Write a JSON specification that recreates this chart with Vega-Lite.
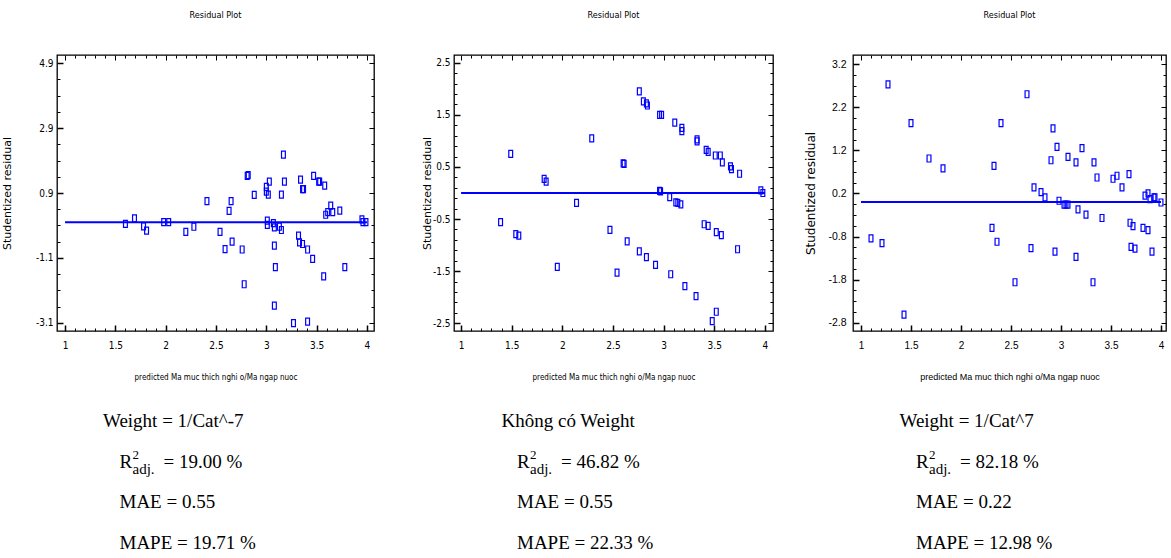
{
  "$schema": "https://vega.github.io/schema/vega-lite/v6.json",
  "padding": {"left": 0, "top": 9, "right": 0, "bottom": 0},
  "background": "white",
  "config": {
    "view": {"stroke": "black", "strokeWidth": 1.3},
    "axis": {"grid": false, "domain": false, "labelColor": "black", "titleColor": "black", "titleFontWeight": "normal", "tickColor": "black"}
  },
  "datasets": {
    "p1": [
      {"x":1.6,"y":-0.05},{"x":1.69,"y":0.12},{"x":1.78,"y":-0.13},{"x":1.81,"y":-0.26},{"x":1.98,"y":0.0},{"x":2.03,"y":0.0},{"x":2.2,"y":-0.3},{"x":2.28,"y":-0.14},{"x":2.41,"y":0.65},{"x":2.54,"y":-0.3},{"x":2.59,"y":-0.83},{"x":2.63,"y":0.35},{"x":2.65,"y":0.65},{"x":2.66,"y":-0.6},{"x":2.76,"y":-0.84},{"x":2.78,"y":-1.91},{"x":2.81,"y":1.43},{"x":2.82,"y":1.45},{"x":2.88,"y":0.84},{"x":3.0,"y":1.09},{"x":3.0,"y":0.94},{"x":3.01,"y":0.05},{"x":3.01,"y":-0.08},{"x":3.02,"y":0.85},{"x":3.03,"y":1.25},{"x":3.07,"y":-0.03},{"x":3.08,"y":-0.16},{"x":3.08,"y":-0.72},{"x":3.09,"y":-1.38},{"x":3.08,"y":-2.57},{"x":3.13,"y":-0.14},{"x":3.15,"y":-0.24},{"x":3.15,"y":0.85},{"x":3.17,"y":2.08},{"x":3.18,"y":1.25},{"x":3.27,"y":-3.11},{"x":3.32,"y":-0.41},{"x":3.33,"y":-0.62},{"x":3.34,"y":1.31},{"x":3.36,"y":-0.67},{"x":3.36,"y":1.02},{"x":3.37,"y":1.02},{"x":3.41,"y":-0.84},{"x":3.41,"y":-3.06},{"x":3.46,"y":-1.13},{"x":3.47,"y":1.43},{"x":3.52,"y":1.25},{"x":3.53,"y":1.25},{"x":3.57,"y":-1.67},{"x":3.58,"y":1.13},{"x":3.59,"y":0.23},{"x":3.61,"y":0.31},{"x":3.64,"y":0.51},{"x":3.66,"y":0.31},{"x":3.73,"y":0.36},{"x":3.78,"y":-1.38},{"x":3.95,"y":0.09},{"x":3.96,"y":0.0},{"x":3.99,"y":0.0}
    ],
    "p2": [
      {"x":1.39,"y":-0.56},{"x":1.49,"y":0.75},{"x":1.54,"y":-0.79},{"x":1.57,"y":-0.82},{"x":1.82,"y":0.27},{"x":1.84,"y":0.22},{"x":1.95,"y":-1.42},{"x":2.14,"y":-0.19},{"x":2.29,"y":1.05},{"x":2.47,"y":-0.71},{"x":2.54,"y":-1.53},{"x":2.6,"y":0.57},{"x":2.61,"y":0.56},{"x":2.64,"y":-0.93},{"x":2.76,"y":1.95},{"x":2.76,"y":-1.12},{"x":2.8,"y":1.76},{"x":2.83,"y":-1.23},{"x":2.83,"y":1.72},{"x":2.84,"y":1.68},{"x":2.92,"y":-1.38},{"x":2.96,"y":1.5},{"x":2.98,"y":1.5},{"x":2.96,"y":0.04},{"x":2.97,"y":0.03},{"x":3.06,"y":-0.08},{"x":3.07,"y":-1.56},{"x":3.11,"y":1.35},{"x":3.12,"y":-0.18},{"x":3.14,"y":-0.19},{"x":3.17,"y":-0.22},{"x":3.18,"y":1.25},{"x":3.18,"y":1.19},{"x":3.21,"y":-1.79},{"x":3.32,"y":-1.98},{"x":3.33,"y":0.99},{"x":3.33,"y":1.03},{"x":3.4,"y":-0.6},{"x":3.42,"y":0.83},{"x":3.44,"y":-0.63},{"x":3.44,"y":0.79},{"x":3.48,"y":-2.46},{"x":3.51,"y":0.72},{"x":3.52,"y":-0.75},{"x":3.52,"y":-2.28},{"x":3.56,"y":0.72},{"x":3.57,"y":-0.81},{"x":3.58,"y":0.59},{"x":3.66,"y":0.51},{"x":3.67,"y":0.46},{"x":3.73,"y":-1.08},{"x":3.75,"y":0.37},{"x":3.96,"y":0.05},{"x":3.98,"y":0.0}
    ],
    "p3": [
      {"x":1.1,"y":-0.84},{"x":1.21,"y":-0.95},{"x":1.27,"y":2.73},{"x":1.43,"y":-2.61},{"x":1.5,"y":1.83},{"x":1.68,"y":1.01},{"x":1.82,"y":0.78},{"x":2.31,"y":-0.6},{"x":2.33,"y":0.84},{"x":2.36,"y":-0.92},{"x":2.4,"y":1.83},{"x":2.54,"y":-1.86},{"x":2.66,"y":2.5},{"x":2.7,"y":-1.07},{"x":2.73,"y":0.34},{"x":2.8,"y":0.23},{"x":2.84,"y":0.11},{"x":2.9,"y":0.97},{"x":2.92,"y":1.71},{"x":2.94,"y":-1.15},{"x":2.96,"y":1.28},{"x":2.98,"y":0.03},{"x":3.03,"y":-0.06},{"x":3.05,"y":-0.06},{"x":3.07,"y":-0.06},{"x":3.07,"y":1.05},{"x":3.15,"y":-1.27},{"x":3.15,"y":0.92},{"x":3.17,"y":-0.17},{"x":3.21,"y":1.25},{"x":3.25,"y":-0.29},{"x":3.32,"y":-1.86},{"x":3.33,"y":0.92},{"x":3.36,"y":0.57},{"x":3.41,"y":-0.37},{"x":3.52,"y":0.54},{"x":3.56,"y":0.61},{"x":3.61,"y":0.34},{"x":3.68,"y":0.65},{"x":3.69,"y":-0.48},{"x":3.7,"y":-1.04},{"x":3.72,"y":-0.56},{"x":3.74,"y":-1.08},{"x":3.82,"y":-0.6},{"x":3.84,"y":0.15},{"x":3.87,"y":-0.65},{"x":3.87,"y":0.2},{"x":3.89,"y":0.07},{"x":3.91,"y":-1.15},{"x":3.93,"y":0.11},{"x":3.94,"y":0.11},{"x":4.0,"y":-0.01}
    ],
    "fit": [{"xa": 1, "xb": 4, "yv": 0}],
    "t1": [
      {"row":"1","part":"head","t":"Weight = 1/Cat^-7"},
      {"row":"2","part":"body","t":"R"},{"row":"2","part":"sup","t":"2"},{"row":"2","part":"sub","t":"adj."},{"row":"2","part":"rest","t":"= 19.00 %"},
      {"row":"3","part":"body","t":"MAE = 0.55"},
      {"row":"4","part":"body","t":"MAPE = 19.71 %"}
    ],
    "t2": [
      {"row":"1","part":"head","t":"Không có Weight"},
      {"row":"2","part":"body","t":"R"},{"row":"2","part":"sup","t":"2"},{"row":"2","part":"sub","t":"adj."},{"row":"2","part":"rest","t":"= 46.82 %"},
      {"row":"3","part":"body","t":"MAE = 0.55"},
      {"row":"4","part":"body","t":"MAPE = 22.33 %"}
    ],
    "t3": [
      {"row":"1","part":"head","t":"Weight = 1/Cat^7"},
      {"row":"2","part":"body","t":"R"},{"row":"2","part":"sup","t":"2"},{"row":"2","part":"sub","t":"adj."},{"row":"2","part":"rest","t":"= 82.18 %"},
      {"row":"3","part":"body","t":"MAE = 0.22"},
      {"row":"4","part":"body","t":"MAPE = 12.98 %"}
    ]
  },
  "columns": 3,
  "spacing": {"row": 78, "column": 80},
  "bounds": "flush",
  "concat": [
    {
      "width": 317, "height": 276,
      "title": {"text": "Residual Plot", "font": "Liberation Sans Narrow, Arial Narrow, DejaVu Sans Condensed, sans-serif", "fontSize": 9, "fontWeight": "normal", "frame": "group", "anchor": "middle", "baseline": "bottom", "offset": 26},
      "layer": [
        {
          "data": {"name": "p1"},
          "mark": {"type": "point", "shape": "M-0.55,-1H0.55V1H-0.55Z", "filled": false, "color": "#0000ff", "size": 49, "strokeWidth": 1.2, "opacity": 1},
          "encoding": {
            "x": {"field": "x", "type": "quantitative", "scale": {"domain": [0.92, 4.07], "nice": false, "zero": false},
                  "axis": {"values": [1,1.5,2,2.5,3,3.5,4], "labelExpr": "toString(datum.value)", "ticks": false, "labelPadding": 9, "labelFont": "Liberation Sans Narrow, Arial Narrow, DejaVu Sans Condensed, sans-serif", "labelFontSize": 10, "title": "predicted Ma muc thich nghi o/Ma ngap nuoc", "titleFont": "Liberation Sans Narrow, Arial Narrow, DejaVu Sans Condensed, sans-serif", "titleFontSize": 8, "titlePadding": 23}},
            "y": {"field": "y", "type": "quantitative", "scale": {"domain": [-3.35, 5.15], "nice": false, "zero": false},
                  "axis": {"values": [-3.1,-1.1,0.9,2.9,4.9], "labelExpr": "toString(datum.value)", "ticks": false, "labelPadding": 4, "labelFont": "Liberation Sans Narrow, Arial Narrow, DejaVu Sans Condensed, sans-serif", "labelFontSize": 10, "title": "Studentized residual", "titleFont": "DejaVu Sans", "titleFontSize": 11, "titlePadding": 23}}
          }
        },
        {
          "data": {"name": "fit"},
          "mark": {"type": "rule", "color": "#0000ff", "strokeWidth": 2},
          "encoding": {
            "x": {"field": "xa", "type": "quantitative", "scale": {"domain": [0.92, 4.07], "nice": false, "zero": false},
                  "axis": {"orient": "top", "offset": -276, "values": [1,1.1,1.2,1.3,1.4,1.5,1.6,1.7,1.8,1.9,2,2.1,2.2,2.3,2.4,2.5,2.6,2.7,2.8,2.9,3,3.1,3.2,3.3,3.4,3.5,3.6,3.7,3.8,3.9,4], "labels": false, "title": null,
                           "tickSize": {"condition": {"test": "indexof([1,1.5,2,2.5,3,3.5,4], datum.value) >= 0", "value": 6}, "value": 3},
                           "tickWidth": {"condition": {"test": "indexof([1,1.5,2,2.5,3,3.5,4], datum.value) >= 0", "value": 1.5}, "value": 1}}},
            "x2": {"field": "xb"},
            "y": {"field": "yv", "type": "quantitative", "scale": {"domain": [-3.35, 5.15], "nice": false, "zero": false},
                  "axis": {"orient": "right", "offset": -317, "values": [-3.1,-2.6,-2.1,-1.6,-1.1,-0.6,-0.1,0.4,0.9,1.4,1.9,2.4,2.9,3.4,3.9,4.4,4.9], "labels": false, "title": null,
                           "tickSize": {"condition": {"test": "indexof([-3.1,-1.1,0.9,2.9,4.9], datum.value) >= 0", "value": 6}, "value": 3},
                           "tickWidth": {"condition": {"test": "indexof([-3.1,-1.1,0.9,2.9,4.9], datum.value) >= 0", "value": 1.5}, "value": 1}}}
          }
        },
        {
          "data": {"name": "fit"},
          "mark": {"type": "rule", "color": "#0000ff", "strokeWidth": 2, "strokeOpacity": 0},
          "encoding": {
            "x": {"field": "xa", "type": "quantitative", "scale": {"domain": [0.92, 4.07], "nice": false, "zero": false},
                  "axis": {"orient": "bottom", "offset": -276, "values": [1,1.1,1.2,1.3,1.4,1.5,1.6,1.7,1.8,1.9,2,2.1,2.2,2.3,2.4,2.5,2.6,2.7,2.8,2.9,3,3.1,3.2,3.3,3.4,3.5,3.6,3.7,3.8,3.9,4], "labels": false, "title": null,
                           "tickSize": {"condition": {"test": "indexof([1,1.5,2,2.5,3,3.5,4], datum.value) >= 0", "value": 5}, "value": 3}}},
            "x2": {"field": "xb"},
            "y": {"field": "yv", "type": "quantitative", "scale": {"domain": [-3.35, 5.15], "nice": false, "zero": false},
                  "axis": {"orient": "left", "offset": -317, "values": [-3.1,-2.6,-2.1,-1.6,-1.1,-0.6,-0.1,0.4,0.9,1.4,1.9,2.4,2.9,3.4,3.9,4.4,4.9], "labels": false, "title": null,
                           "tickSize": {"condition": {"test": "indexof([-3.1,-1.1,0.9,2.9,4.9], datum.value) >= 0", "value": 5}, "value": 3}}}
          }
        }
      ],
      "resolve": {"axis": {"x": "independent", "y": "independent"}}
    },
    {
      "width": 319, "height": 276,
      "title": {"text": "Residual Plot", "font": "Liberation Sans Narrow, Arial Narrow, DejaVu Sans Condensed, sans-serif", "fontSize": 9, "fontWeight": "normal", "frame": "group", "anchor": "middle", "baseline": "bottom", "offset": 26},
      "layer": [
        {
          "data": {"name": "p2"},
          "mark": {"type": "point", "shape": "M-0.55,-1H0.55V1H-0.55Z", "filled": false, "color": "#0000ff", "size": 49, "strokeWidth": 1.2, "opacity": 1},
          "encoding": {
            "x": {"field": "x", "type": "quantitative", "scale": {"domain": [0.93, 4.08], "nice": false, "zero": false},
                  "axis": {"values": [1,1.5,2,2.5,3,3.5,4], "labelExpr": "toString(datum.value)", "ticks": false, "labelPadding": 9, "labelFont": "Liberation Sans Narrow, Arial Narrow, DejaVu Sans Condensed, sans-serif", "labelFontSize": 10, "title": "predicted Ma muc thich nghi o/Ma ngap nuoc", "titleFont": "Liberation Sans Narrow, Arial Narrow, DejaVu Sans Condensed, sans-serif", "titleFontSize": 8, "titlePadding": 23}},
            "y": {"field": "y", "type": "quantitative", "scale": {"domain": [-2.65, 2.65], "nice": false, "zero": false},
                  "axis": {"values": [-2.5,-1.5,-0.5,0.5,1.5,2.5], "labelExpr": "toString(datum.value)", "ticks": false, "labelPadding": 4, "labelFont": "Liberation Sans Narrow, Arial Narrow, DejaVu Sans Condensed, sans-serif", "labelFontSize": 10, "title": "Studentized residual", "titleFont": "DejaVu Sans", "titleFontSize": 11, "titlePadding": 0}}
          }
        },
        {
          "data": {"name": "fit"},
          "mark": {"type": "rule", "color": "#0000ff", "strokeWidth": 2},
          "encoding": {
            "x": {"field": "xa", "type": "quantitative", "scale": {"domain": [0.93, 4.08], "nice": false, "zero": false},
                  "axis": {"orient": "top", "offset": -276, "values": [1,1.1,1.2,1.3,1.4,1.5,1.6,1.7,1.8,1.9,2,2.1,2.2,2.3,2.4,2.5,2.6,2.7,2.8,2.9,3,3.1,3.2,3.3,3.4,3.5,3.6,3.7,3.8,3.9,4], "labels": false, "title": null,
                           "tickSize": {"condition": {"test": "indexof([1,1.5,2,2.5,3,3.5,4], datum.value) >= 0", "value": 6}, "value": 3},
                           "tickWidth": {"condition": {"test": "indexof([1,1.5,2,2.5,3,3.5,4], datum.value) >= 0", "value": 1.5}, "value": 1}}},
            "x2": {"field": "xb"},
            "y": {"field": "yv", "type": "quantitative", "scale": {"domain": [-2.65, 2.65], "nice": false, "zero": false},
                  "axis": {"orient": "right", "offset": -319, "values": [-2.5,-2.3,-2.1,-1.9,-1.7,-1.5,-1.3,-1.1,-0.9,-0.7,-0.5,-0.3,-0.1,0.1,0.3,0.5,0.7,0.9,1.1,1.3,1.5,1.7,1.9,2.1,2.3,2.5], "labels": false, "title": null,
                           "tickSize": {"condition": {"test": "indexof([-2.5,-1.5,-0.5,0.5,1.5,2.5], datum.value) >= 0", "value": 6}, "value": 3},
                           "tickWidth": {"condition": {"test": "indexof([-2.5,-1.5,-0.5,0.5,1.5,2.5], datum.value) >= 0", "value": 1.5}, "value": 1}}}
          }
        },
        {
          "data": {"name": "fit"},
          "mark": {"type": "rule", "color": "#0000ff", "strokeWidth": 2, "strokeOpacity": 0},
          "encoding": {
            "x": {"field": "xa", "type": "quantitative", "scale": {"domain": [0.93, 4.08], "nice": false, "zero": false},
                  "axis": {"orient": "bottom", "offset": -276, "values": [1,1.1,1.2,1.3,1.4,1.5,1.6,1.7,1.8,1.9,2,2.1,2.2,2.3,2.4,2.5,2.6,2.7,2.8,2.9,3,3.1,3.2,3.3,3.4,3.5,3.6,3.7,3.8,3.9,4], "labels": false, "title": null,
                           "tickSize": {"condition": {"test": "indexof([1,1.5,2,2.5,3,3.5,4], datum.value) >= 0", "value": 5}, "value": 3}}},
            "x2": {"field": "xb"},
            "y": {"field": "yv", "type": "quantitative", "scale": {"domain": [-2.65, 2.65], "nice": false, "zero": false},
                  "axis": {"orient": "left", "offset": -319, "values": [-2.5,-2.3,-2.1,-1.9,-1.7,-1.5,-1.3,-1.1,-0.9,-0.7,-0.5,-0.3,-0.1,0.1,0.3,0.5,0.7,0.9,1.1,1.3,1.5,1.7,1.9,2.1,2.3,2.5], "labels": false, "title": null,
                           "tickSize": {"condition": {"test": "indexof([-2.5,-1.5,-0.5,0.5,1.5,2.5], datum.value) >= 0", "value": 5}, "value": 3}}}
          }
        }
      ],
      "resolve": {"axis": {"x": "independent", "y": "independent"}}
    },
    {
      "width": 313, "height": 276,
      "title": {"text": "Residual Plot", "font": "Liberation Sans Narrow, Arial Narrow, DejaVu Sans Condensed, sans-serif", "fontSize": 9, "fontWeight": "normal", "frame": "group", "anchor": "middle", "baseline": "bottom", "offset": 26},
      "layer": [
        {
          "data": {"name": "p3"},
          "mark": {"type": "point", "shape": "M-0.55,-1H0.55V1H-0.55Z", "filled": false, "color": "#0000ff", "size": 49, "strokeWidth": 1.2, "opacity": 1},
          "encoding": {
            "x": {"field": "x", "type": "quantitative", "scale": {"domain": [0.92, 4.05], "nice": false, "zero": false},
                  "axis": {"values": [1,1.5,2,2.5,3,3.5,4], "labelExpr": "toString(datum.value)", "ticks": false, "labelPadding": 9, "labelFont": "Liberation Sans", "labelFontSize": 10, "title": "predicted Ma muc thich nghi o/Ma ngap nuoc", "titleFont": "Liberation Sans", "titleFontSize": 9, "titlePadding": 22}},
            "y": {"field": "y", "type": "quantitative", "scale": {"domain": [-2.99, 3.41], "nice": false, "zero": false},
                  "axis": {"values": [-2.8,-1.8,-0.8,0.2,1.2,2.2,3.2], "labelExpr": "toString(datum.value)", "ticks": false, "labelPadding": 7, "labelFont": "Liberation Sans", "labelFontSize": 10.5, "title": "Studentized residual", "titleFont": "DejaVu Sans", "titleFontSize": 12, "titlePadding": 10}}
          }
        },
        {
          "data": {"name": "fit"},
          "mark": {"type": "rule", "color": "#0000ff", "strokeWidth": 2},
          "encoding": {
            "x": {"field": "xa", "type": "quantitative", "scale": {"domain": [0.92, 4.05], "nice": false, "zero": false},
                  "axis": {"orient": "top", "offset": -276, "values": [1,1.1,1.2,1.3,1.4,1.5,1.6,1.7,1.8,1.9,2,2.1,2.2,2.3,2.4,2.5,2.6,2.7,2.8,2.9,3,3.1,3.2,3.3,3.4,3.5,3.6,3.7,3.8,3.9,4], "labels": false, "title": null,
                           "tickSize": {"condition": {"test": "indexof([1,1.5,2,2.5,3,3.5,4], datum.value) >= 0", "value": 6}, "value": 3},
                           "tickWidth": {"condition": {"test": "indexof([1,1.5,2,2.5,3,3.5,4], datum.value) >= 0", "value": 1.5}, "value": 1}}},
            "x2": {"field": "xb"},
            "y": {"field": "yv", "type": "quantitative", "scale": {"domain": [-2.99, 3.41], "nice": false, "zero": false},
                  "axis": {"orient": "right", "offset": -313, "values": [-2.8,-2.55,-2.3,-2.05,-1.8,-1.55,-1.3,-1.05,-0.8,-0.55,-0.3,-0.05,0.2,0.45,0.7,0.95,1.2,1.45,1.7,1.95,2.2,2.45,2.7,2.95,3.2], "labels": false, "title": null,
                           "tickSize": {"condition": {"test": "indexof([-2.8,-1.8,-0.8,0.2,1.2,2.2,3.2], datum.value) >= 0", "value": 6}, "value": 3},
                           "tickWidth": {"condition": {"test": "indexof([-2.8,-1.8,-0.8,0.2,1.2,2.2,3.2], datum.value) >= 0", "value": 1.5}, "value": 1}}}
          }
        },
        {
          "data": {"name": "fit"},
          "mark": {"type": "rule", "color": "#0000ff", "strokeWidth": 2, "strokeOpacity": 0},
          "encoding": {
            "x": {"field": "xa", "type": "quantitative", "scale": {"domain": [0.92, 4.05], "nice": false, "zero": false},
                  "axis": {"orient": "bottom", "offset": -276, "values": [1,1.1,1.2,1.3,1.4,1.5,1.6,1.7,1.8,1.9,2,2.1,2.2,2.3,2.4,2.5,2.6,2.7,2.8,2.9,3,3.1,3.2,3.3,3.4,3.5,3.6,3.7,3.8,3.9,4], "labels": false, "title": null,
                           "tickSize": {"condition": {"test": "indexof([1,1.5,2,2.5,3,3.5,4], datum.value) >= 0", "value": 5}, "value": 3}}},
            "x2": {"field": "xb"},
            "y": {"field": "yv", "type": "quantitative", "scale": {"domain": [-2.99, 3.41], "nice": false, "zero": false},
                  "axis": {"orient": "left", "offset": -313, "values": [-2.8,-2.55,-2.3,-2.05,-1.8,-1.55,-1.3,-1.05,-0.8,-0.55,-0.3,-0.05,0.2,0.45,0.7,0.95,1.2,1.45,1.7,1.95,2.2,2.45,2.7,2.95,3.2], "labels": false, "title": null,
                           "tickSize": {"condition": {"test": "indexof([-2.8,-1.8,-0.8,0.2,1.2,2.2,3.2], datum.value) >= 0", "value": 5}, "value": 3}}}
          }
        }
      ],
      "resolve": {"axis": {"x": "independent", "y": "independent"}}
    },
    {
      "width": 317, "height": 146, "view": {"stroke": null},
      "data": {"name": "t1"},
      "encoding": {"y": {"field": "row", "type": "ordinal", "axis": null, "scale": {"type": "point", "padding": 0.3, "domain": ["1","2","3","4"]}}, "text": {"field": "t"}},
      "layer": [
        {"transform": [{"filter": "datum.part === 'head'"}], "mark": {"type": "text", "font": "Liberation Serif", "fontSize": 19, "align": "left", "baseline": "middle", "dx": -112.5}},
        {"transform": [{"filter": "datum.part === 'body'"}], "mark": {"type": "text", "font": "Liberation Serif", "fontSize": 19, "align": "left", "baseline": "middle", "dx": -96}},
        {"transform": [{"filter": "datum.part === 'sup'"}], "mark": {"type": "text", "font": "Liberation Serif", "fontSize": 13, "align": "left", "baseline": "middle", "dx": -83, "dy": -7}},
        {"transform": [{"filter": "datum.part === 'sub'"}], "mark": {"type": "text", "font": "Liberation Serif", "fontSize": 15, "align": "left", "baseline": "middle", "dx": -83, "dy": 7}},
        {"transform": [{"filter": "datum.part === 'rest'"}], "mark": {"type": "text", "font": "Liberation Serif", "fontSize": 19, "align": "left", "baseline": "middle", "dx": -52}}
      ]
    },
    {
      "width": 319, "height": 146, "view": {"stroke": null},
      "data": {"name": "t2"},
      "encoding": {"y": {"field": "row", "type": "ordinal", "axis": null, "scale": {"type": "point", "padding": 0.3, "domain": ["1","2","3","4"]}}, "text": {"field": "t"}},
      "layer": [
        {"transform": [{"filter": "datum.part === 'head'"}], "mark": {"type": "text", "font": "Liberation Serif", "fontSize": 19, "align": "left", "baseline": "middle", "dx": -112}},
        {"transform": [{"filter": "datum.part === 'body'"}], "mark": {"type": "text", "font": "Liberation Serif", "fontSize": 19, "align": "left", "baseline": "middle", "dx": -96.5}},
        {"transform": [{"filter": "datum.part === 'sup'"}], "mark": {"type": "text", "font": "Liberation Serif", "fontSize": 13, "align": "left", "baseline": "middle", "dx": -83.5, "dy": -7}},
        {"transform": [{"filter": "datum.part === 'sub'"}], "mark": {"type": "text", "font": "Liberation Serif", "fontSize": 15, "align": "left", "baseline": "middle", "dx": -83.5, "dy": 7}},
        {"transform": [{"filter": "datum.part === 'rest'"}], "mark": {"type": "text", "font": "Liberation Serif", "fontSize": 19, "align": "left", "baseline": "middle", "dx": -52.5}}
      ]
    },
    {
      "width": 313, "height": 146, "view": {"stroke": null},
      "data": {"name": "t3"},
      "encoding": {"y": {"field": "row", "type": "ordinal", "axis": null, "scale": {"type": "point", "padding": 0.3, "domain": ["1","2","3","4"]}}, "text": {"field": "t"}},
      "layer": [
        {"transform": [{"filter": "datum.part === 'head'"}], "mark": {"type": "text", "font": "Liberation Serif", "fontSize": 19, "align": "left", "baseline": "middle", "dx": -110}},
        {"transform": [{"filter": "datum.part === 'body'"}], "mark": {"type": "text", "font": "Liberation Serif", "fontSize": 19, "align": "left", "baseline": "middle", "dx": -93.5}},
        {"transform": [{"filter": "datum.part === 'sup'"}], "mark": {"type": "text", "font": "Liberation Serif", "fontSize": 13, "align": "left", "baseline": "middle", "dx": -80.5, "dy": -7}},
        {"transform": [{"filter": "datum.part === 'sub'"}], "mark": {"type": "text", "font": "Liberation Serif", "fontSize": 15, "align": "left", "baseline": "middle", "dx": -80.5, "dy": 7}},
        {"transform": [{"filter": "datum.part === 'rest'"}], "mark": {"type": "text", "font": "Liberation Serif", "fontSize": 19, "align": "left", "baseline": "middle", "dx": -49.5}}
      ]
    }
  ]
}
